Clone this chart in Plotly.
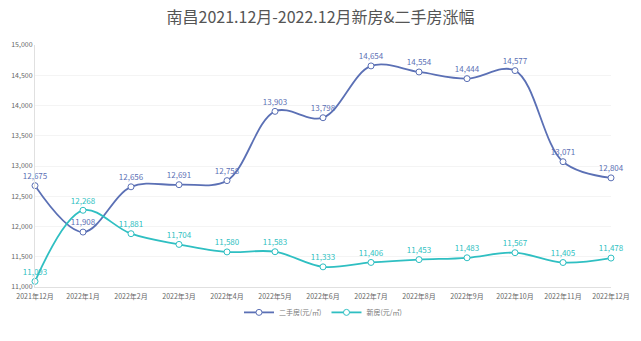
import plotly.graph_objects as go

categories = ["2021年12月", "2022年1月", "2022年2月", "2022年3月", "2022年4月", "2022年5月",
              "2022年6月", "2022年7月", "2022年8月", "2022年9月", "2022年10月", "2022年11月", "2022年12月"]
second_hand = [12675, 11908, 12656, 12691, 12758, 13903, 13798, 14654, 14554, 14444, 14577, 13071, 12804]
new_house = [11093, 12268, 11881, 11704, 11580, 11583, 11333, 11406, 11453, 11483, 11567, 11405, 11478]
y_ticks = [11000, 11500, 12000, 12500, 13000, 13500, 14000, 14500, 15000]

c1 = "#5b70b5"
c2 = "#2fbfc2"
font = "Noto Sans CJK SC"

fig = go.Figure()
for name, vals, col in [("二手房(元/㎡)", second_hand, c1), ("新房(元/㎡)", new_house, c2)]:
    fig.add_trace(go.Scatter(
        x=list(range(len(categories))), y=vals, name=name,
        mode="lines+markers+text", line=dict(color=col, width=1.8, shape="spline", smoothing=1.0),
        marker=dict(size=6, color="white", line=dict(color=col, width=1)),
        text=[f"{v:,}" for v in vals], textposition="top center",
        textfont=dict(color=col, size=8, family=font), cliponaxis=False,
    ))

fig.update_layout(
    width=641, height=341,
    margin=dict(l=35, r=30, t=45, b=54, autoexpand=False),
    paper_bgcolor="white", plot_bgcolor="white",
    font=dict(family=font, color="#666"),
    title=dict(text="南昌2021.12月-2022.12月新房&二手房涨幅", x=0.5, xanchor="center",
               y=0.95, yanchor="middle", font=dict(size=16, color="#555", family=font)),
    showlegend=True,
    legend=dict(orientation="h", x=0.5, xanchor="center", y=-0.045, yanchor="top",
                bgcolor="rgba(0,0,0,0)",
                font=dict(size=7, color="#777"), itemwidth=30, tracegroupgap=0),
)
fig.update_xaxes(tickmode="array", tickvals=list(range(len(categories))), ticktext=categories,
                 range=[0, 12], showgrid=False, showline=True, linecolor="#e0e0e0",
                 tickfont=dict(size=7, color="#666"), ticks="", zeroline=False, ticklabelstandoff=3)
fig.update_yaxes(range=[11000, 15000], tickvals=y_ticks, ticktext=[f"{v:,}" for v in y_ticks],
                 showgrid=True, gridcolor="#f4f4f4", showline=True, linecolor="#e0e0e0",
                 tickfont=dict(size=7, color="#666"), ticks="", zeroline=False)

fig.write_html("out.html")
